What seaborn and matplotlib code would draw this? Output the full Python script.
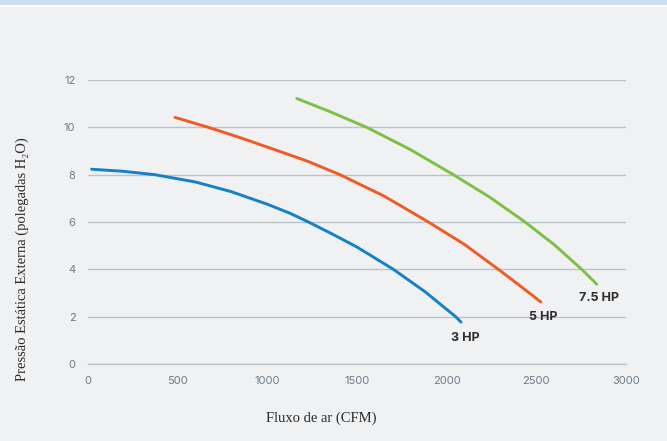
import matplotlib
matplotlib.use("Agg")
import matplotlib.pyplot as plt
import seaborn as sns
import pandas as pd
from matplotlib.patches import Rectangle

# curvas (CFM, polegadas H2O)
x_3hp = [20, 200, 372, 600, 800, 1000, 1126, 1229, 1360, 1498, 1703, 1880, 2050, 2080]
y_3hp = [8.23, 8.14, 8.00, 7.69, 7.28, 6.75, 6.37, 6.00, 5.50, 4.95, 4.00, 3.05, 2.00, 1.77]

x_5hp = [485, 671, 850, 1040, 1220, 1405, 1650, 1898, 2100, 2288, 2410, 2525]
y_5hp = [10.42, 10.00, 9.56, 9.06, 8.58, 8.00, 7.10, 6.00, 5.05, 4.00, 3.30, 2.62]

x_75hp = [1164, 1350, 1554, 1800, 2037, 2240, 2437, 2600, 2753, 2837]
y_75hp = [11.22, 10.66, 10.00, 9.05, 8.00, 7.05, 6.00, 5.04, 4.00, 3.37]

series = ["3 HP", "5 HP", "7.5 HP"]
cores = ["#1380c8", "#f15a24", "#7cc144"]

# posição dos rótulos (valores no eixo)
label_x = [2102, 2537, 2850]
label_y = [1.1, 2.0, 2.8]

xticks = [0, 500, 1000, 1500, 2000, 2500, 3000]
yticks = [0, 2, 4, 6, 8, 10, 12]

df = pd.concat([
    pd.DataFrame({"cfm": x_3hp, "pressao": y_3hp, "motor": "3 HP"}),
    pd.DataFrame({"cfm": x_5hp, "pressao": y_5hp, "motor": "5 HP"}),
    pd.DataFrame({"cfm": x_75hp, "pressao": y_75hp, "motor": "7.5 HP"}),
])

fundo = "#f0f1f3"
grade = "#b9c3cc"
texto_tick = "#6d7b88"

sns.set_style("white")
plt.rcParams["font.family"] = ["Inter", "DejaVu Sans"]

fig = plt.figure(figsize=(6.67, 4.41), dpi=100, facecolor=fundo)
# faixa azul no topo
fig.patches.append(Rectangle((0, 1 - 5 / 441), 1, 5 / 441, transform=fig.transFigure,
                             facecolor="#cfddf0", edgecolor="none", zorder=0))
fig.patches.append(Rectangle((0, 1 - 7 / 441), 1, 2 / 441, transform=fig.transFigure,
                             facecolor="#ffffff", edgecolor="none", zorder=0))

ax = fig.add_axes([88 / 667, 1 - 364 / 441, 538 / 667, 284 / 441])
ax.set_facecolor(fundo)

sns.lineplot(data=df, x="cfm", y="pressao", hue="motor", palette=cores,
             hue_order=series, estimator=None, sort=False, linewidth=2.1,
             legend=False, ax=ax, zorder=3)
for ln in ax.lines:
    ln.set_solid_joinstyle("round")

for nome, lx, ly in zip(series, label_x, label_y):
    ax.text(lx, ly, nome, ha="center", va="center", fontsize=9,
            fontweight="bold", color="#2e2e2e")

ax.set_xlim(0, 3000)
ax.set_ylim(0, 12)
ax.set_xticks(xticks)
ax.set_yticks(yticks)
ax.grid(axis="y", color=grade, linewidth=1)
ax.grid(axis="x", visible=False)
for s in ["top", "right", "left"]:
    ax.spines[s].set_visible(False)
ax.spines["bottom"].set_color(grade)
ax.spines["bottom"].set_linewidth(1)
ax.tick_params(axis="x", length=5, width=1, color=grade, direction="out",
               labelsize=8, labelcolor=texto_tick, pad=4)
ax.tick_params(axis="y", length=0, labelsize=8, labelcolor=texto_tick, pad=9)
ax.set_xlabel("")
ax.set_ylabel("")

serif = ["Liberation Serif", "DejaVu Serif"]
fig.text(321 / 667, 1 - 418 / 441, "Fluxo de ar (CFM)", ha="center", va="center",
         fontsize=10.5, color="#2a2a2a", family=serif)
fig.text(22 / 667, 1 - 259 / 441, "Pressão Estática Externa (polegadas H₂O)",
         ha="center", va="center", rotation=90, fontsize=10.5, color="#2a2a2a",
         family=serif)

fig.savefig("out.png", dpi=100, facecolor=fundo)
